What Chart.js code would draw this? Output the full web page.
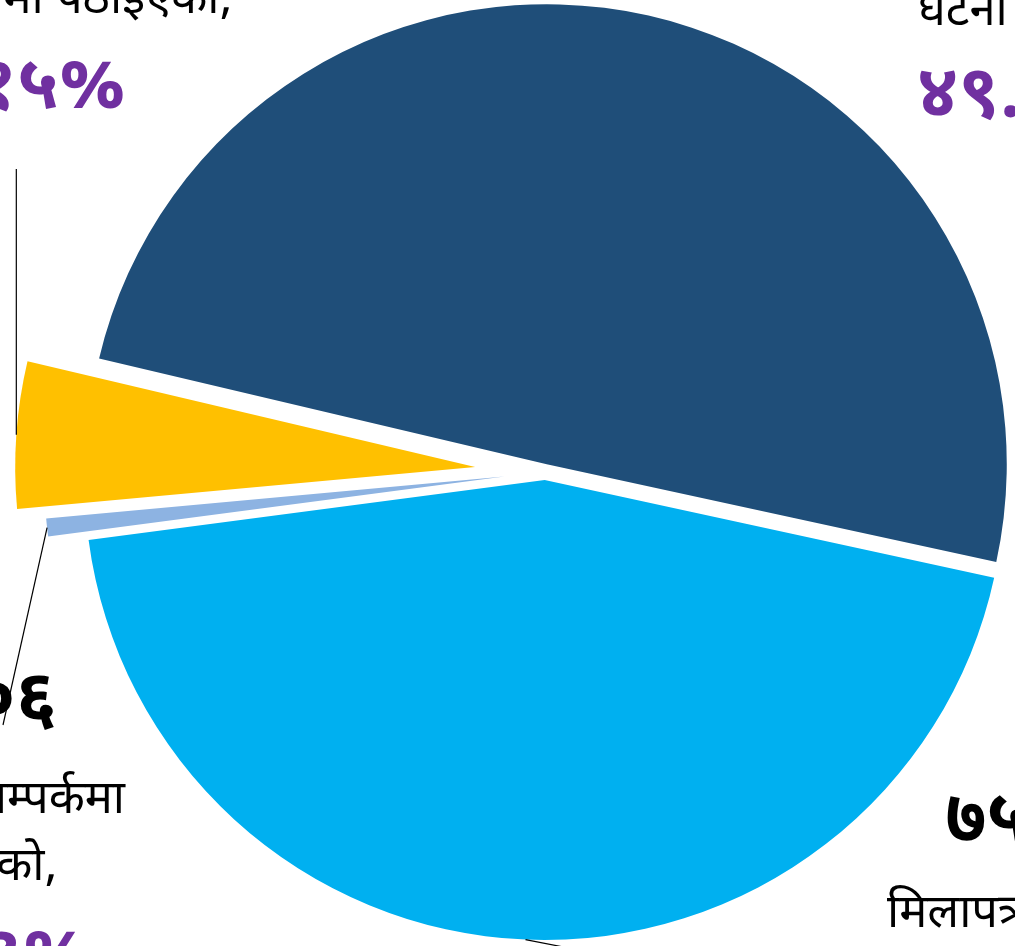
<!DOCTYPE html>
<html>
<head>
<meta charset="utf-8">
<script src="https://cdn.jsdelivr.net/npm/chart.js@4/dist/chart.umd.min.js"></script>
<style>
  html, body { margin: 0; padding: 0; background: #ffffff; overflow: hidden; }
  canvas { display: block; }
</style>
</head>
<body>
<canvas id="pieChart" width="1015" height="946"></canvas>
<script>
  // categories and values (counts of cases)
  const categories = ['घटना दर्ता भएका', 'मिलापत्र भएका', 'सम्पर्कमा नआएको', 'विभागमा पठाइएका'];
  const counts = [8401, 7522, 106, 870];
  const percents = [49.71, 44.51, 0.63, 5.15];
  const colors = ['#1f4e79', '#00b0f0', '#8db3e2', '#ffc000'];
  const explode = [8, 8, 41, 70];

  const DEV = '०१२३४५६७८९';
  function toDev(str) {
    return String(str).replace(/[0-9]/g, (d) => DEV[Number(d)]);
  }

  // label blocks, positions relative to the pie centre
  const labelLayout = [
    { align: 'left', count: [373, -540], desc: [[373, -447, 'घटना दर्ता भएका,']], pct: [372, -355] },
    { align: 'left', count: [400, 370], desc: [[342, 455, 'मिलापत्र भएका,']], pct: [342, 545] },
    { align: 'right', count: [-488, 250], desc: [[-420, 341, 'पीडितसँग सम्पर्कमा'], [-488, 408, 'नभएको,']], pct: [-455, 506] },
    { align: 'right', count: [-313, -550], desc: [[-313, -526, 'सम्बन्धित निकाय'], [-313, -459, 'विभागमा पठाइएका,']], pct: [-419, -364] }
  ];
  const leaderEnds = [null, [95, 490], [-542, 253], [0, -303]];

  const FONT = "'Noto Sans Devanagari', 'Nirmala UI', 'Noto Sans', sans-serif";

  const explodePlugin = {
    id: 'explode',
    afterDatasetsUpdate(chart) {
      const arcs = chart.getDatasetMeta(0).data;
      arcs.forEach((arc, i) => {
        const mid = (arc.startAngle + arc.endAngle) / 2;
        arc.x += Math.cos(mid) * explode[i];
        arc.y += Math.sin(mid) * explode[i];
      });
    }
  };

  const labelPlugin = {
    id: 'sliceLabels',
    afterDatasetsDraw(chart) {
      const ctx = chart.ctx;
      const area = chart.chartArea;
      const cx = (area.left + area.right) / 2;
      const cy = (area.top + area.bottom) / 2;
      const arcs = chart.getDatasetMeta(0).data;
      ctx.save();

      // leader lines from the outer middle of each slice
      ctx.strokeStyle = '#000000';
      ctx.lineWidth = 1.2;
      arcs.forEach((arc, i) => {
        const end = leaderEnds[i];
        if (!end) return;
        const mid = (arc.startAngle + arc.endAngle) / 2;
        const sx = arc.x + Math.cos(mid) * arc.outerRadius;
        const sy = arc.y + Math.sin(mid) * arc.outerRadius;
        ctx.beginPath();
        ctx.moveTo(sx, sy);
        if (i === 3) {
          ctx.lineTo(sx, cy + end[1]);
        } else {
          ctx.lineTo(cx + end[0], cy + end[1]);
        }
        ctx.stroke();
      });

      labelLayout.forEach((lab, i) => {
        ctx.textAlign = lab.align;
        ctx.textBaseline = 'alphabetic';
        ctx.fillStyle = '#000000';
        ctx.font = 'bold 74px ' + FONT;
        ctx.fillText(toDev(counts[i]), cx + lab.count[0], cy + lab.count[1]);
        ctx.font = '47px ' + FONT;
        lab.desc.forEach((d) => ctx.fillText(d[2], cx + d[0], cy + d[1]));
        ctx.fillStyle = '#7030a0';
        ctx.font = 'bold 74px ' + FONT;
        ctx.fillText(toDev(percents[i].toFixed(2)) + '%', cx + lab.pct[0], cy + lab.pct[1]);
      });
      ctx.restore();
    }
  };

  new Chart(document.getElementById('pieChart'), {
    type: 'pie',
    data: {
      labels: categories,
      datasets: [{
        data: counts,
        backgroundColor: colors,
        borderWidth: 0,
        radius: 460,
        clip: false
      }]
    },
    options: {
      responsive: false,
      animation: false,
      events: [],
      rotation: 283.3,
      layout: { padding: { left: 75, right: 0, top: 0, bottom: 2 } },
      plugins: {
        legend: { display: false },
        tooltip: { enabled: false }
      }
    },
    plugins: [explodePlugin, labelPlugin]
  });
</script>
</body>
</html>
